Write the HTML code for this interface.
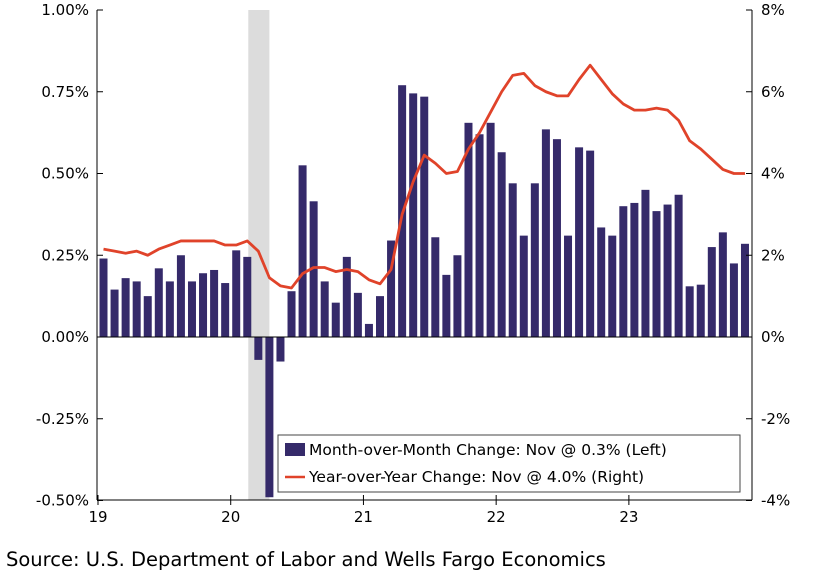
<!DOCTYPE html>
<html><head><meta charset="utf-8"><style>
body{margin:0;background:#fff;width:814px;height:577px;overflow:hidden;font-family:"DejaVu Sans","Liberation Sans",sans-serif}
svg text{font-family:"DejaVu Sans","Liberation Sans",sans-serif}
</style></head><body>
<svg id="chart" width="814" height="577"></svg>
<script>
const months = 59;
const momValues = [0.24,0.145,0.18,0.17,0.125,0.21,0.17,0.25,0.17,0.195,0.205,0.165,
0.265,0.245,-0.07,-0.49,-0.075,0.14,0.525,0.415,0.17,0.105,0.245,0.135,
0.04,0.125,0.295,0.77,0.745,0.735,0.305,0.19,0.25,0.655,0.62,0.655,
0.565,0.47,0.31,0.47,0.635,0.605,0.31,0.58,0.57,0.335,0.31,0.40,
0.41,0.45,0.385,0.405,0.435,0.155,0.16,0.275,0.32,0.225,0.285];
const yoyValues = [2.15,2.1,2.05,2.1,2.0,2.15,2.25,2.35,2.35,2.35,2.35,2.25,
2.25,2.35,2.1,1.45,1.25,1.2,1.55,1.7,1.7,1.6,1.65,1.6,
1.4,1.3,1.65,3.0,3.8,4.45,4.25,4.0,4.05,4.6,5.0,5.5,
6.0,6.4,6.45,6.15,6.0,5.9,5.9,6.3,6.65,6.3,5.95,5.7,
5.55,5.55,5.6,5.55,5.3,4.8,4.6,4.35,4.1,4.0,4.0];
const leftTicks = [1.0,0.75,0.5,0.25,0,-0.25,-0.5];
const leftLabels = ["1.00%","0.75%","0.50%","0.25%","0.00%","-0.25%","-0.50%"];
const rightTicks = [8,6,4,2,0,-2,-4];
const rightLabels = ["8%","6%","4%","2%","0%","-2%","-4%"];
const yearLabels = ["19","20","21","22","23"];
const recession = [13,15];

const svg=document.getElementById('chart');const NS='http://www.w3.org/2000/svg';
const L=97,R=752,T=10,B=500;
const yL=v=>337-v*(327);
const yR=v=>337-v*(327/8);
const xC=i=>103.5+i*11.06;
function mk(t,a,p){const e=document.createElementNS(NS,t);for(const k in a)e.setAttribute(k,a[k]);(p||svg).appendChild(e);return e;}
// recession
let rs=mk('rect',{x:xC(recession[0])+1,y:T,width:xC(recession[1])-xC(recession[0])-1,height:B-T,fill:'#dcdcdc'});


// bars
momValues.forEach((v,i)=>{
 const y0=yL(0),y1=yL(v);
 const b=mk('rect',{x:xC(i)-4,y:Math.min(y0,y1),width:8,height:Math.abs(y1-y0),fill:'#352a6a'});
 
 
});
// zero line
mk('line',{x1:L,x2:R,y1:yL(0),y2:yL(0),stroke:'#000','stroke-width':1});
// yoy line
const pl=mk('polyline',{points:yoyValues.map((v,i)=>xC(i)+','+yR(v)).join(' '),fill:'none',stroke:'#e0432a','stroke-width':2.8,'stroke-linejoin':'round'});


// axes
mk('line',{x1:L,x2:L,y1:T,y2:B,stroke:'#000'});
mk('line',{x1:R,x2:R,y1:T,y2:B,stroke:'#000'});
mk('line',{x1:L,x2:R,y1:B,y2:B,stroke:'#000'});
leftTicks.forEach((v,i)=>{
 mk('line',{x1:L,x2:L+6,y1:yL(v),y2:yL(v),stroke:'#000'});
 const t=mk('text',{x:L-8,y:yL(v)+5,'text-anchor':'end','font-size':15});t.textContent=leftLabels[i];
 
 
});
rightTicks.forEach((v,i)=>{
 mk('line',{x1:R-6,x2:R,y1:yR(v),y2:yR(v),stroke:'#000'});
 const t=mk('text',{x:R+9,y:yR(v)+5,'font-size':15});t.textContent=rightLabels[i];
 
 
});
yearLabels.forEach((s,k)=>{
 const x=xC(k*12)-5.5;
 mk('line',{x1:x,x2:x,y1:B-5,y2:B+5,stroke:'#000'});
 const t=mk('text',{x:x,y:B+22,'text-anchor':'middle','font-size':15});t.textContent=s;
 
 
});
// legend
const lg=mk('g',{});


mk('rect',{x:278,y:435,width:462,height:57,fill:'#fff',stroke:'#444'},lg);
mk('rect',{x:285,y:443,width:20,height:13,fill:'#352a6a'},lg);
let t1=mk('text',{x:309,y:455,'font-size':15.5},lg);t1.textContent='Month-over-Month Change: Nov @ 0.3% (Left)';
mk('line',{x1:285,x2:305,y1:477,y2:477,stroke:'#e0432a','stroke-width':2.6},lg);
let t2=mk('text',{x:309,y:482,'font-size':15.5},lg);t2.textContent='Year-over-Year Change: Nov @ 4.0% (Right)';
let src=mk('text',{x:6,y:566,'font-size':19.5});src.textContent='Source: U.S. Department of Labor and Wells Fargo Economics';


</script>
</body></html>
